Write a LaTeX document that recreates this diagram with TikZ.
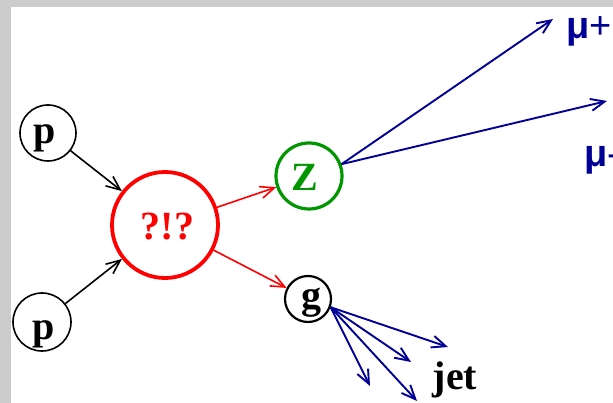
\documentclass[tikz,border=0pt]{standalone}
\usepackage{fontspec}
\setmainfont{Liberation Serif}
\newfontfamily\musans{Liberation Sans}
\usetikzlibrary{arrows.meta}
\definecolor{bandgrey}{RGB}{204,204,204}
\definecolor{zgreen}{RGB}{0,150,0}
\definecolor{navy}{RGB}{0,0,150}
\tikzset{
  circ/.style={circle,draw,inner sep=0pt,minimum size=#1},
  lab/.style={inner sep=0pt,font=\fontsize{40}{40}\selectfont\bfseries},
  mulab/.style={inner sep=0pt,anchor=base west,text=navy,font=\fontsize{38}{38}\selectfont\musans},
  tip/.style={-{Straight Barb[length=14pt,width=12pt]}},
  blk/.style={tip,line width=1.6pt,black},
  redarr/.style={tip,line width=1.6pt,red},
  bluearr/.style={tip,line width=1.9pt,navy}
}
\begin{document}
\begin{tikzpicture}[x=1pt,y=-1pt]
\clip (0,0) rectangle (613,403);
\fill[white] (0,0) rectangle (613,403);
\fill[bandgrey] (0,0) rectangle (11,403);
\fill[bandgrey] (0,0) rectangle (613,7);
% circles
\node[circ=56pt,line width=1.6pt] (p1) at (48,133) {};
\node[circ=58pt,line width=1.6pt] (p2) at (42,322) {};
\node[circ=106pt,line width=3.8pt,red] (q) at (165,225) {};
\node[circ=66pt,line width=3.2pt,zgreen] (Z) at (309,176) {};
\node[circ=46pt,line width=2.2pt] (g) at (308,299) {};
% texts
\node[lab] (p1t) at (45,138.5) {p};
\node[lab] (p2t) at (44,334) {p};
\node[lab,red] (qt) at (167.5,226.5) {?!?};
\node[lab,zgreen] (Zt) at (305,177.5) {Z};
\node[lab] (gt) at (311,302.5) {g};
\node[lab] (jet) at (455,380) {jet};
\node[mulab] (mup) at (566,39) {\textbf{μ}+};
\node[mulab] (mum) at (584,167) {\textbf{μ}-};
% endpoints
\coordinate (mupe) at (553,19);
\coordinate (mume) at (607,101);
\coordinate (j1) at (448,347);
\coordinate (j2) at (411,362);
\coordinate (j3) at (370,386);
\coordinate (j4) at (417,401);
% connectors
\draw[blk] (p1) -- (q);
\draw[blk] (p2) -- (q);
\draw[redarr] (q) -- (Z);
\draw[redarr] (q) -- (g);
\draw[bluearr] (Z.20) -- (mupe);
\draw[bluearr] (Z.20) -- (mume);
\draw[bluearr] (g.-20) -- (j1);
\draw[bluearr] (g.-20) -- (j2);
\draw[bluearr] (g.-20) -- (j3);
\draw[bluearr] (g.-20) -- (j4);
\end{tikzpicture}
\end{document}
